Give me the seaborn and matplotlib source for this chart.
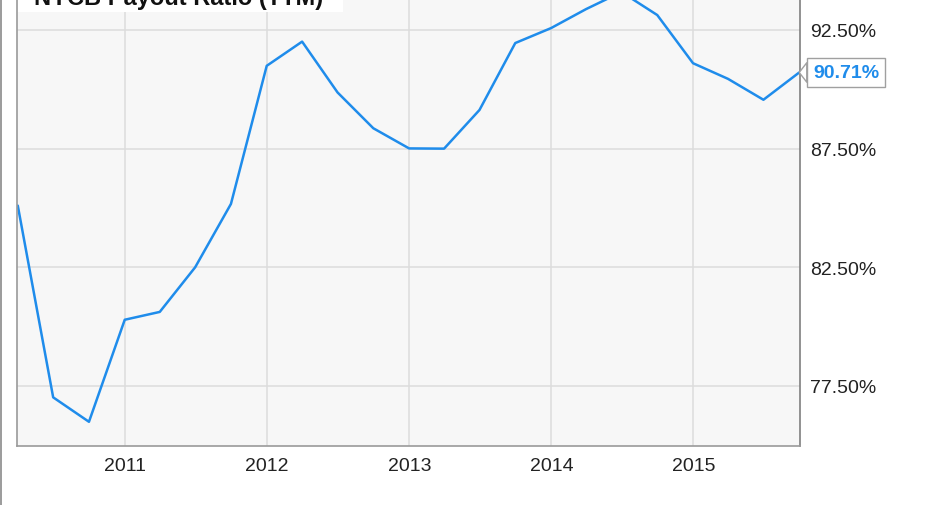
import pandas as pd
import matplotlib.pyplot as plt
import seaborn as sns

# Quarterly payout ratio (TTM), %
quarters = ['2010-03-31', '2010-06-30', '2010-09-30', '2010-12-31',
            '2011-03-31', '2011-06-30', '2011-09-30', '2011-12-31',
            '2012-03-31', '2012-06-30', '2012-09-30', '2012-12-31',
            '2013-03-31', '2013-06-30', '2013-09-30', '2013-12-31',
            '2014-03-31', '2014-06-30', '2014-09-30', '2014-12-31',
            '2015-03-31', '2015-06-30', '2015-09-30']
payout = [85.10, 77.02, 75.99, 80.29, 80.62, 82.50, 85.17, 90.99,
          92.01, 89.87, 88.36, 87.51, 87.50, 89.13, 91.95, 92.58,
          93.38, 94.10, 93.13, 91.10, 90.44, 89.56, 90.71]
y_ticks = [77.5, 82.5, 87.5, 92.5]
x_years = [2011, 2012, 2013, 2014, 2015]
title = 'NYCB Payout Ratio (TTM)'

df = pd.DataFrame({'date': pd.to_datetime(quarters), 'payout': payout})

sns.set_style('white')
plt.rcParams['font.family'] = ['Liberation Sans', 'DejaVu Sans']

W, H = 931, 506
fig = plt.figure(figsize=(W / 100, H / 100), dpi=100)
# plot area runs past the top edge (the reference is cropped)
ax = fig.add_axes([17 / W, (H - 447) / H, (800 - 17) / W, (447 + 30) / H])
ax.set_facecolor('#f7f7f7')

line_color = '#1f8ceb'
sns.lineplot(data=df, x='date', y='payout', ax=ax, color=line_color, linewidth=1.8)

ax.set_xlim(pd.Timestamp('2010-03-29'), pd.Timestamp('2015-10-02'))
ax.set_ylim(74.97, 95.07)

ax.set_xticks([pd.Timestamp(f'{y}-01-01') for y in x_years])
ax.set_xticklabels([str(y) for y in x_years])
ax.set_yticks(y_ticks)
ax.set_yticklabels([f'{v:.2f}%' for v in y_ticks])
ax.yaxis.tick_right()
ax.tick_params(axis='both', length=0, labelsize=14, colors='#222222')
ax.tick_params(axis='x', pad=8)
ax.tick_params(axis='y', pad=7)
ax.set_xlabel('')
ax.set_ylabel('')

ax.grid(True, color='#dcdcdc', linewidth=1.1)
ax.set_axisbelow(True)
for side in ['left', 'bottom', 'right']:
    ax.spines[side].set_visible(True)
    ax.spines[side].set_color('#9a9a9a')
    ax.spines[side].set_linewidth(1.2)
ax.spines['right'].set_color('#7f7f7f')
ax.spines['top'].set_visible(False)

# last value callout
ax.annotate(f'{payout[-1]:.2f}%', xy=(df['date'].iloc[-1], payout[-1]),
            xytext=(10, 0), textcoords='offset points', ha='left', va='center',
            fontsize=14, fontweight='bold', color=line_color,
            bbox=dict(boxstyle='square,pad=0.3', fc='white', ec='#a0a0a0', lw=1),
            arrowprops=dict(arrowstyle='wedge,tail_width=1.0,shrink_factor=0.5',
                            fc='white', ec='#a0a0a0', lw=1, shrinkA=0, shrinkB=0),
            annotation_clip=False)

# title box, partly cut off at the top
fig.patches.append(plt.Rectangle((18 / W, (H - 13) / H), (343 - 18) / W, 0.2,
                                 transform=fig.transFigure, fc='white', ec='none'))
fig.text(34 / W, (H - 5) / H, title, fontsize=17, fontweight='bold',
         color='#111111', va='baseline', ha='left')

# outer border on the left edge
fig.add_artist(plt.Line2D([0.6 / W, 0.6 / W], [0, 1], transform=fig.transFigure,
                          color='#8a8a8a', linewidth=1.2))

fig.savefig('out.png', dpi=100)
